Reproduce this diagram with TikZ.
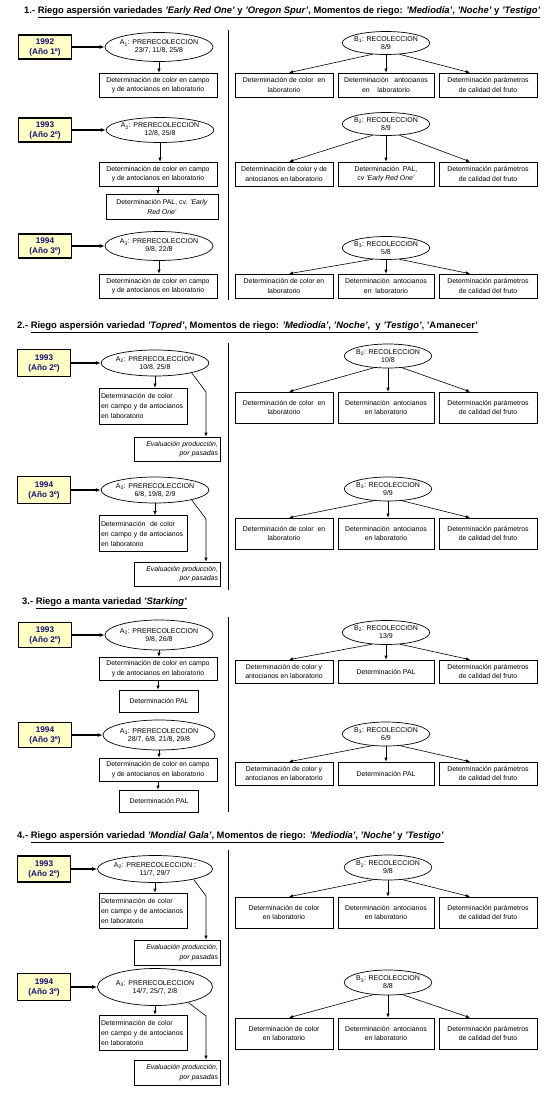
\documentclass[tikz,border=0pt]{standalone}
\usepackage{fontspec}
\setmainfont{Liberation Sans}
\usetikzlibrary{shapes.geometric,arrows.meta,calc}
\definecolor{yrfill}{HTML}{FFFFC6}
\definecolor{navy}{HTML}{10106E}
\newcommand\myrow[7]{%
 \node[bx,minimum width=98pt,minimum height=#3pt] (#1a) at (284,#2) {#4};
 \node[bx,minimum width=96pt,minimum height=#3pt] (#1b) at (386,#2) {#5};
 \node[bx,minimum width=98pt,minimum height=#3pt] (#1c) at (488,#2) {#6};
 \draw[arr] (#7.220) -- ([xshift=5pt]#1a.north);
 \draw[arr] (#7.south) -- (#7.south |- #1b.north);
 \draw[arr] (#7.320) -- ([xshift=-18pt]#1c.north);
}
\begin{document}
\begin{tikzpicture}[x=1pt,y=-1pt,
 ttl/.style={anchor=west,inner sep=0pt,font=\fontsize{9.4}{11}\selectfont\bfseries},
 yr/.style={draw=black,line width=1.5pt,fill=yrfill,minimum width=53pt,minimum height=24pt,inner sep=0pt,align=center,text=navy,font=\fontsize{8.2}{10}\selectfont\bfseries},
 bx/.style={draw,line width=0.6pt,fill=white,inner sep=1pt,align=center,font=\fontsize{6.9}{9.5}\selectfont},
 bxl/.style={draw,line width=0.6pt,fill=white,inner xsep=2pt,inner ysep=1pt,text width=84pt,align=left,font=\fontsize{6.9}{10}\selectfont},
 ev/.style={draw,line width=0.6pt,fill=white,inner xsep=2pt,inner ysep=1pt,text width=82pt,minimum height=24pt,align=right,font=\fontsize{6.9}{9.5}\selectfont\itshape},
 el/.style={draw,ellipse,line width=0.7pt,fill=white,inner xsep=-1pt,inner ysep=-1pt,align=center,font=\fontsize{7}{8}\selectfont},
 arr/.style={-{Latex[length=4pt,width=3.2pt]},line width=0.6pt},
 tarr/.style={-{Latex[length=5pt,width=4pt]},line width=1.3pt},
 dv/.style={line width=0.6pt}]
\fill[white] (0,0) rectangle (554,1100);
\useasboundingbox (0,0) rectangle (554,1100);

% ===== Section 1 =====
\node[ttl] (t1) at (24,12) {1.- \underline{Riego aspersión variedades \textit{'Early Red One'} y \textit{'Oregon Spur'}, Momentos de riego: \textit{'Mediodía'}, \textit{'Noche'} y \textit{'Testigo'}}};
\draw[dv] (228,30) -- (228,300);

\node[yr] (y11) at (45,47) {1992\\(Año 1º)};
\node[el,minimum width=108pt,minimum height=29pt] (a11) at (159,47) {A\textsubscript{1}: PRERECOLECCION\\23/7, 11/8, 25/8};
\node[bx,minimum width=118pt,minimum height=24pt] (d11) at (158,85) {Determinación de color en campo\\y de antocianos en laboratorio};
\draw[tarr] (y11.east) -- (a11.west);
\draw[arr] (a11.south) -- (a11.south |- d11.north);
\node[el,minimum width=84pt,minimum height=23pt] (b11) at (386,43) {B\textsubscript{1}: RECOLECCION\\8/9};
\myrow{r11}{85}{24}{Determinación de color\ \ en\\laboratorio}{Determinación\ \ \ antocianos\\en\ \ \ \ laboratorio}{Determinación parámetros\\de calidad del fruto}{b11}

\node[yr] (y12) at (45,130) {1993\\(Año 2º)};
\node[el,minimum width=104pt,minimum height=25pt] (a12) at (160,130) {A\textsubscript{2}: PRERECOLECCION\\12/8, 25/8};
\node[bx,minimum width=118pt,minimum height=24pt] (d12) at (158,174) {Determinación de color en campo\\y de antocianos en laboratorio};
\node[bx,minimum width=112pt,minimum height=25pt] (p12) at (162,207) {Determinación PAL, cv. \textit{'Early}\\\textit{Red One'}};
\draw[tarr] (y12.east) -- (a12.west);
\draw[arr] (a12.south) -- (a12.south |- d12.north);
\draw[arr] (d12.south) -- (d12.south |- p12.north);
\node[el,minimum width=84pt,minimum height=23pt] (b12) at (386,124) {B\textsubscript{2}: RECOLECCION\\8/9};
\myrow{r12}{174}{24}{Determinación de color y de\\antocianos en laboratorio}{Determinación\ \ PAL,\\cv \textit{'Early Red One'}}{Determinación parámetros\\de calidad del fruto}{b12}

\node[yr] (y13) at (45,246) {1994\\(Año 3º)};
\node[el,minimum width=108pt,minimum height=29pt] (a13) at (159,246) {A\textsubscript{3}: PRERECOLECCION\\9/8, 22/8};
\node[bx,minimum width=118pt,minimum height=24pt] (d13) at (158,286) {Determinación de color en campo\\y de antocianos en laboratorio};
\draw[tarr] (y13.east) -- (a13.west);
\draw[arr] (a13.south) -- (a13.south |- d13.north);
\node[el,minimum width=84pt,minimum height=23pt] (b13) at (386,248) {B\textsubscript{3}: RECOLECCION\\5/8};
\myrow{r13}{286}{24}{Determinación de color en\\laboratorio}{Determinación\ \ antocianos\\en\ \ laboratorio}{Determinación parámetros\\de calidad del fruto}{b13}

% ===== Section 2 =====
\node[ttl] (t2) at (17,327) {2.- \underline{Riego aspersión variedad \textit{'Topred'}, Momentos de riego: \textit{'Mediodía'}, \textit{'Noche'},\ \ y \textit{'Testigo'}, 'Amanecer'}};
\draw[dv] (228,343) -- (228,590);

\node[yr,minimum height=27pt] (y21) at (44,363) {1993\\(Año 2º)};
\node[el,minimum width=100pt,minimum height=26pt] (a21) at (155,363) {A\textsubscript{2}: PRERECOLECCION\\10/8, 25/8};
\node[bxl,minimum height=36pt] (d21) at (143,406) {Determinación de color\\en campo y de antocianos\\en laboratorio};
\node[ev] (e21) at (177,449) {Evaluación producción,\\por pasadas};
\coordinate (k21) at (206,392);
\draw[tarr] (y21.east) -- (a21.west);
\draw[arr] (a21.south) -- (a21.south |- d21.north);
\draw[arr] (a21.-15) -- (k21) -- (k21 |- e21.north);
\node[el,minimum width=84pt,minimum height=24pt] (b21) at (388,356) {B\textsubscript{2}: RECOLECCION\\10/8};
\myrow{r21}{407.5}{31}{Determinación de color\ \ en\\laboratorio}{Determinación\ \ antocianos\\en laboratorio}{Determinación parámetros\\de calidad del fruto}{b21}

\node[yr,minimum height=27pt] (y22) at (44,490) {1994\\(Año 3º)};
\node[el,minimum width=100pt,minimum height=26pt] (a22) at (155,490) {A\textsubscript{3}: PRERECOLECCION\\6/8, 19/8, 2/9};
\node[bxl,minimum height=36pt] (d22) at (143,533.5) {Determinación\ \ de color\\en campo y de antocianos\\en laboratorio};
\node[ev] (e22) at (177,574) {Evaluación producción,\\por pasadas};
\coordinate (k22) at (206,519);
\draw[tarr] (y22.east) -- (a22.west);
\draw[arr] (a22.south) -- (a22.south |- d22.north);
\draw[arr] (a22.-15) -- (k22) -- (k22 |- e22.north);
\node[el,minimum width=84pt,minimum height=24pt] (b22) at (388,489) {B\textsubscript{3}: RECOLECCION\\9/9};
\myrow{r22}{533.5}{31}{Determinación de color\ \ en\\laboratorio}{Determinación\ \ antocianos\\en laboratorio}{Determinación parámetros\\de calidad del fruto}{b22}

% ===== Section 3 =====
\node[ttl] (t3) at (22,603) {3.- \underline{Riego a manta variedad \textit{'Starking'}}};
\draw[dv] (228,617) -- (228,812);

\node[yr,minimum height=25pt] (y31) at (45,635) {1993\\(Año 2º)};
\node[el,minimum width=108pt,minimum height=30pt] (a31) at (159,635) {A\textsubscript{2}: PRERECOLECCION\\9/8, 26/8};
\node[bx,minimum width=118pt,minimum height=23pt] (d31) at (158,668.5) {Determinación de color en campo\\y de antocianos en laboratorio};
\node[bx,minimum width=79pt,minimum height=22pt] (p31) at (159,701) {Determinación PAL};
\draw[tarr] (y31.east) -- (a31.west);
\draw[arr] (a31.south) -- (a31.south |- d31.north);
\draw[arr] (d31.south) -- (d31.south |- p31.north);
\node[el,minimum width=84pt,minimum height=24pt] (b31) at (386,632.5) {B\textsubscript{2}: RECOLECCION\\13/9};
\myrow{r31}{671.5}{23}{Determinación de color y\\antocianos en laboratorio}{Determinación PAL}{Determinación parámetros\\de calidad del fruto}{b31}

\node[yr,minimum height=25pt] (y32) at (45,735) {1994\\(Año 3º)};
\node[el,minimum width=112pt,minimum height=30pt] (a32) at (159,735) {A\textsubscript{3}: PRERECOLECCION\\28/7, 6/8, 21/8, 29/8};
\node[bx,minimum width=118pt,minimum height=23pt] (d32) at (158,769.5) {Determinación de color en campo\\y de antocianos en laboratorio};
\node[bx,minimum width=79pt,minimum height=22pt] (p32) at (159,801) {Determinación PAL};
\draw[tarr] (y32.east) -- (a32.west);
\draw[arr] (a32.south) -- (a32.south |- d32.north);
\draw[arr] (d32.south) -- (d32.south |- p32.north);
\node[el,minimum width=84pt,minimum height=24pt] (b32) at (386,734) {B\textsubscript{3}: RECOLECCION\\6/9};
\myrow{r32}{773.5}{23}{Determinación de color y\\antocianos en laboratorio}{Determinación PAL}{Determinación parámetros\\de calidad del fruto}{b32}

% ===== Section 4 =====
\node[ttl] (t4) at (17,837) {4.- \underline{Riego aspersión variedad \textit{'Mondial Gala'}, Momentos de riego: \textit{'Mediodía'}, \textit{'Noche'} y \textit{'Testigo'}}};
\draw[dv] (228,850) -- (228,1085);

\node[yr,minimum height=26pt] (y41) at (44,869) {1993\\(Año 2º)};
\node[el,minimum width=115pt,minimum height=27pt] (a41) at (155,869) {A\textsubscript{2}: PRERECOLECCION :\\11/7, 29/7};
\node[bxl,minimum height=35pt] (d41) at (143,910.5) {Determinación de color\\en campo y de antocianos\\en laboratorio};
\node[ev,minimum height=25pt] (e41) at (177,952.5) {Evaluación producción,\\por pasadas};
\coordinate (k41) at (206,896);
\draw[tarr] (y41.east) -- (a41.west);
\draw[arr] (a41.south) -- (a41.south |- d41.north);
\draw[arr] (a41.-15) -- (k41) -- (k41 |- e41.north);
\node[el,minimum width=84pt,minimum height=25pt] (b41) at (388,867.5) {B\textsubscript{2}: RECOLECCION\\9/8};
\myrow{r41}{912.5}{31}{Determinación de color\\en laboratorio}{Determinación\ \ antocianos\\en laboratorio}{Determinación parámetros\\de calidad del fruto}{b41}

\node[yr,minimum height=27pt] (y42) at (44,987) {1994\\(Año 3º)};
\node[el,minimum width=115pt,minimum height=37pt] (a42) at (155,987) {A\textsubscript{3}: PRERECOLECCION\\14/7, 25/7, 2/8};
\node[bxl,minimum height=35pt] (d42) at (143,1032.5) {Determinación de color\\en campo y de antocianos\\en laboratorio};
\node[ev,minimum height=25pt] (e42) at (177,1072.5) {Evaluación producción,\\por pasadas};
\coordinate (k42) at (206,1016);
\draw[tarr] (y42.east) -- (a42.west);
\draw[arr] (a42.south) -- (a42.south |- d42.north);
\draw[arr] (a42.-25) -- (k42) -- (k42 |- e42.north);
\node[el,minimum width=84pt,minimum height=25pt] (b42) at (388,982.5) {B\textsubscript{3}: RECOLECCION\\8/8};
\myrow{r42}{1033.5}{31}{Determinación de color\\en laboratorio}{Determinación\ \ antocianos\\en laboratorio}{Determinación parámetros\\de calidad del fruto}{b42}
\end{tikzpicture}
\end{document}
